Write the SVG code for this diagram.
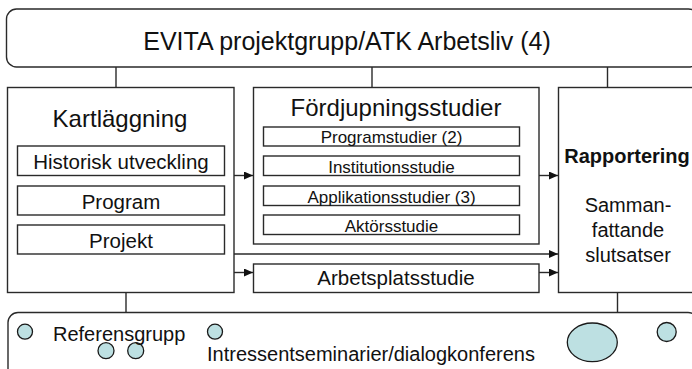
<svg xmlns="http://www.w3.org/2000/svg" width="692" height="369" viewBox="0 0 692 369">
<style>
.box{fill:#fff;stroke:#2a2a2a;stroke-width:1.4}
.line{fill:none;stroke:#2a2a2a;stroke-width:1.4}
.t{font-family:"Liberation Sans",Arial,sans-serif;fill:#111;text-anchor:middle}
.big{font-size:24px}
.mid{font-size:20.5px}
.sm{font-size:17px}
.dot{fill:#bde0e2;stroke:#1a1a1a;stroke-width:1.3}
</style>
<defs>
<marker id="arr" markerUnits="userSpaceOnUse" markerWidth="9" markerHeight="8" refX="9" refY="4" orient="auto">
<path d="M0,0 L9,4 L0,8 z" fill="#111"/>
</marker>
</defs>
<rect width="692" height="369" fill="#fff"/>
<g id="connectors">
<line class="line" x1="116" y1="67" x2="116" y2="87.5"/>
<line class="line" x1="372" y1="67" x2="372" y2="87.5"/>
<line class="line" x1="607.5" y1="67" x2="607.5" y2="87.5"/>
<line class="line" x1="126" y1="292.5" x2="126" y2="312.5"/>
<line class="line" x1="617.5" y1="292.5" x2="617.5" y2="312.5"/>
<line class="line" x1="234" y1="175.5" x2="253" y2="175.5" marker-end="url(#arr)"/>
<line class="line" x1="539" y1="175.5" x2="558" y2="175.5" marker-end="url(#arr)"/>
<line class="line" x1="234" y1="254" x2="558" y2="254" marker-end="url(#arr)"/>
<line class="line" x1="234" y1="272.5" x2="253" y2="272.5" marker-end="url(#arr)"/>
<line class="line" x1="539" y1="272.5" x2="558" y2="272.5" marker-end="url(#arr)"/>
</g>
<g id="evita">
<rect class="box" x="6.5" y="9" width="692" height="58" rx="10"/>
<text class="t" x="347" y="50" style="font-size:25px">EVITA projektgrupp/ATK Arbetsliv (4)</text>
</g>
<g id="kartlaggning">
<rect class="box" x="7.5" y="87.5" width="226.5" height="205"/>
<text class="t big" x="120" y="127">Kartläggning</text>
<rect class="box" x="17.5" y="146" width="207" height="29.5"/>
<text class="t mid" x="121" y="169">Historisk utveckling</text>
<rect class="box" x="17.5" y="186" width="207" height="29"/>
<text class="t mid" x="121" y="209">Program</text>
<rect class="box" x="17.5" y="225" width="207" height="29"/>
<text class="t mid" x="121" y="248">Projekt</text>
</g>
<g id="fordjupning">
<rect class="box" x="253.5" y="87.5" width="285.5" height="156.5"/>
<text class="t big" x="396" y="116">Fördjupningsstudier</text>
<rect class="box" x="263.5" y="127" width="256" height="19"/>
<text class="t sm" x="391.5" y="143">Programstudier (2)</text>
<rect class="box" x="263.5" y="156" width="256" height="19.5"/>
<text class="t sm" x="391.5" y="172.5">Institutionsstudie</text>
<rect class="box" x="263.5" y="186" width="256" height="19.5"/>
<text class="t sm" x="391.5" y="202.5">Applikationsstudier (3)</text>
<rect class="box" x="263.5" y="215" width="256" height="19.5"/>
<text class="t sm" x="391.5" y="231.5">Aktörsstudie</text>
</g>
<g id="arbetsplats">
<rect class="box" x="253.5" y="264" width="285.5" height="28.5"/>
<text class="t mid" x="396" y="285">Arbetsplatsstudie</text>
</g>
<g id="rapportering">
<rect class="box" x="558.5" y="87.5" width="140" height="205"/>
<text class="t" x="627" y="163" style="font-size:20px;font-weight:bold">Rapportering</text>
<text class="t" x="628" y="212" style="font-size:20px">Samman-</text>
<text class="t" x="628" y="237" style="font-size:20px">fattande</text>
<text class="t" x="628" y="262" style="font-size:20px">slutsatser</text>
</g>
<g id="intressenter">
<rect class="box" x="8" y="312.5" width="690" height="70" rx="10"/>
<circle class="dot" cx="25" cy="331.7" r="7.5"/>
<circle class="dot" cx="215" cy="331.7" r="7.5"/>
<circle class="dot" cx="106" cy="350.7" r="8"/>
<circle class="dot" cx="135.7" cy="350.7" r="8"/>
<ellipse class="dot" cx="592.3" cy="342.3" rx="25" ry="19.3"/>
<circle class="dot" cx="666.7" cy="332" r="9.5"/>
<text class="t" x="53" y="341" style="font-size:20px;text-anchor:start">Referensgrupp</text>
<text class="t" x="207" y="361" style="font-size:20px;text-anchor:start">Intressentseminarier/dialogkonferens</text>
</g>
</svg>
